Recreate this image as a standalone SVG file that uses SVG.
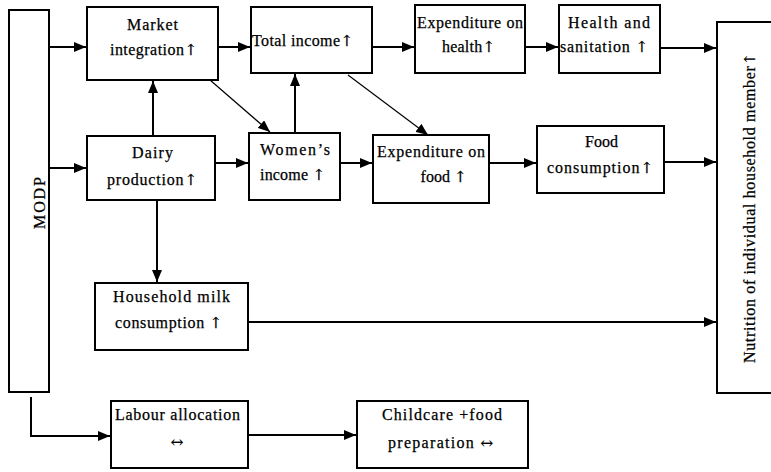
<svg xmlns="http://www.w3.org/2000/svg" width="771" height="472" viewBox="0 0 771 472">
<style>
  .box { fill: #fff; stroke: #000; stroke-width: 2; }
  .lbl { font-family: "Liberation Serif", "Times New Roman", serif; font-size: 16px; fill: #000; text-anchor: middle; stroke: #000; stroke-width: 0.25; }
  .ar { font-family: "DejaVu Serif", "DejaVu Sans", serif; font-size: 15px; }
  .c { fill: none; stroke: #000; stroke-width: 2; marker-end: url(#ah); }
  .d { fill: none; stroke: #000; stroke-width: 1.2; marker-end: url(#ah); }
</style>
<defs>
  <marker id="ah" viewBox="0 0 12 10" refX="12" refY="5" markerWidth="12" markerHeight="10" markerUnits="userSpaceOnUse" orient="auto">
    <path d="M0,0 L12,5 L0,10 Z" fill="#000"/>
  </marker>
</defs>
<rect width="771" height="472" fill="#fff"/>

<g id="connectors">
  <path class="c" d="M49,47 H86"/>
  <path class="c" d="M49,168 H86"/>
  <path class="c" d="M218,47 H250"/>
  <path class="c" d="M372,47 H414"/>
  <path class="c" d="M525,47 H558"/>
  <path class="c" d="M660,48 H716"/>
  <path class="c" d="M153,136 V81"/>
  <path class="d" d="M210,80 L270,132"/>
  <path class="c" d="M295,133 V74"/>
  <path class="d" d="M348,75 L428,135"/>
  <path class="c" d="M215,163 H248"/>
  <path class="c" d="M340,163 H372"/>
  <path class="c" d="M489,163 H536"/>
  <path class="c" d="M664,162 H716"/>
  <path class="c" d="M157,200 V282"/>
  <path class="c" d="M248,322 H716"/>
  <path class="c" d="M31,397 V436 H110"/>
  <path class="c" d="M248,435 H356"/>
</g>

<g id="modp">
  <rect class="box" x="9" y="10" width="40" height="382"/>
  <text class="lbl" transform="translate(45,203) rotate(-90)" textLength="52">MODP</text>
</g>
<g id="market">
  <rect class="box" x="87" y="7" width="131" height="73"/>
  <text class="lbl" x="152.5" y="30" textLength="51">Market</text>
  <text class="lbl" x="153.5" y="55" textLength="87">integration<tspan class="ar">↑</tspan></text>
</g>
<g id="total">
  <rect class="box" x="251" y="7" width="121" height="66"/>
  <text class="lbl" x="302.5" y="46" textLength="101">Total income<tspan class="ar">↑</tspan></text>
</g>
<g id="exphealth">
  <rect class="box" x="415" y="5" width="110" height="68"/>
  <text class="lbl" x="470" y="28" textLength="106">Expenditure on</text>
  <text class="lbl" x="468.5" y="52" textLength="53">health<tspan class="ar">↑</tspan></text>
</g>
<g id="healthsan">
  <rect class="box" x="559" y="5" width="101" height="68"/>
  <text class="lbl" x="609" y="28" textLength="82">Health and</text>
  <text class="lbl" x="604" y="52" textLength="88">sanitation <tspan class="ar">↑</tspan></text>
</g>
<g id="dairy">
  <rect class="box" x="87" y="136" width="128" height="64"/>
  <text class="lbl" x="152.5" y="158" textLength="41">Dairy</text>
  <text class="lbl" x="152" y="185" textLength="90">production<tspan class="ar">↑</tspan></text>
</g>
<g id="women">
  <rect class="box" x="249" y="133" width="91" height="67"/>
  <text class="lbl" x="295" y="155" textLength="70">Women’s</text>
  <text class="lbl" x="292.5" y="180" textLength="65">income <tspan class="ar">↑</tspan></text>
</g>
<g id="expfood">
  <rect class="box" x="373" y="135" width="116" height="68"/>
  <text class="lbl" x="431" y="157" textLength="108">Expenditure on</text>
  <text class="lbl" x="443.5" y="182">food <tspan class="ar">↑</tspan></text>
</g>
<g id="foodcons">
  <rect class="box" x="537" y="126" width="127" height="67"/>
  <text class="lbl" x="601.5" y="147">Food</text>
  <text class="lbl" x="600" y="173" textLength="106">consumption<tspan class="ar">↑</tspan></text>
</g>
<g id="nutrition">
  <rect class="box" x="717" y="22" width="64" height="371"/>
  <text class="lbl" transform="translate(755,208) rotate(-90)" textLength="310">Nutrition of individual household member<tspan class="ar">↑</tspan></text>
</g>
<g id="milk">
  <rect class="box" x="95" y="283" width="153" height="67"/>
  <text class="lbl" x="171.5" y="302" textLength="117">Household milk</text>
  <text class="lbl" x="168.5" y="328" textLength="107">consumption <tspan class="ar">↑</tspan></text>
</g>
<g id="labour">
  <rect class="box" x="111" y="401" width="137" height="67"/>
  <text class="lbl" x="177.5" y="420" textLength="125">Labour allocation</text>
  <text class="lbl" x="177" y="447"><tspan class="ar">↔</tspan></text>
</g>
<g id="childcare">
  <rect class="box" x="357" y="401" width="171" height="67"/>
  <text class="lbl" x="442" y="420" textLength="120">Childcare +food</text>
  <text class="lbl" x="440.5" y="448" textLength="105">preparation <tspan class="ar">↔</tspan></text>
</g>
</svg>
